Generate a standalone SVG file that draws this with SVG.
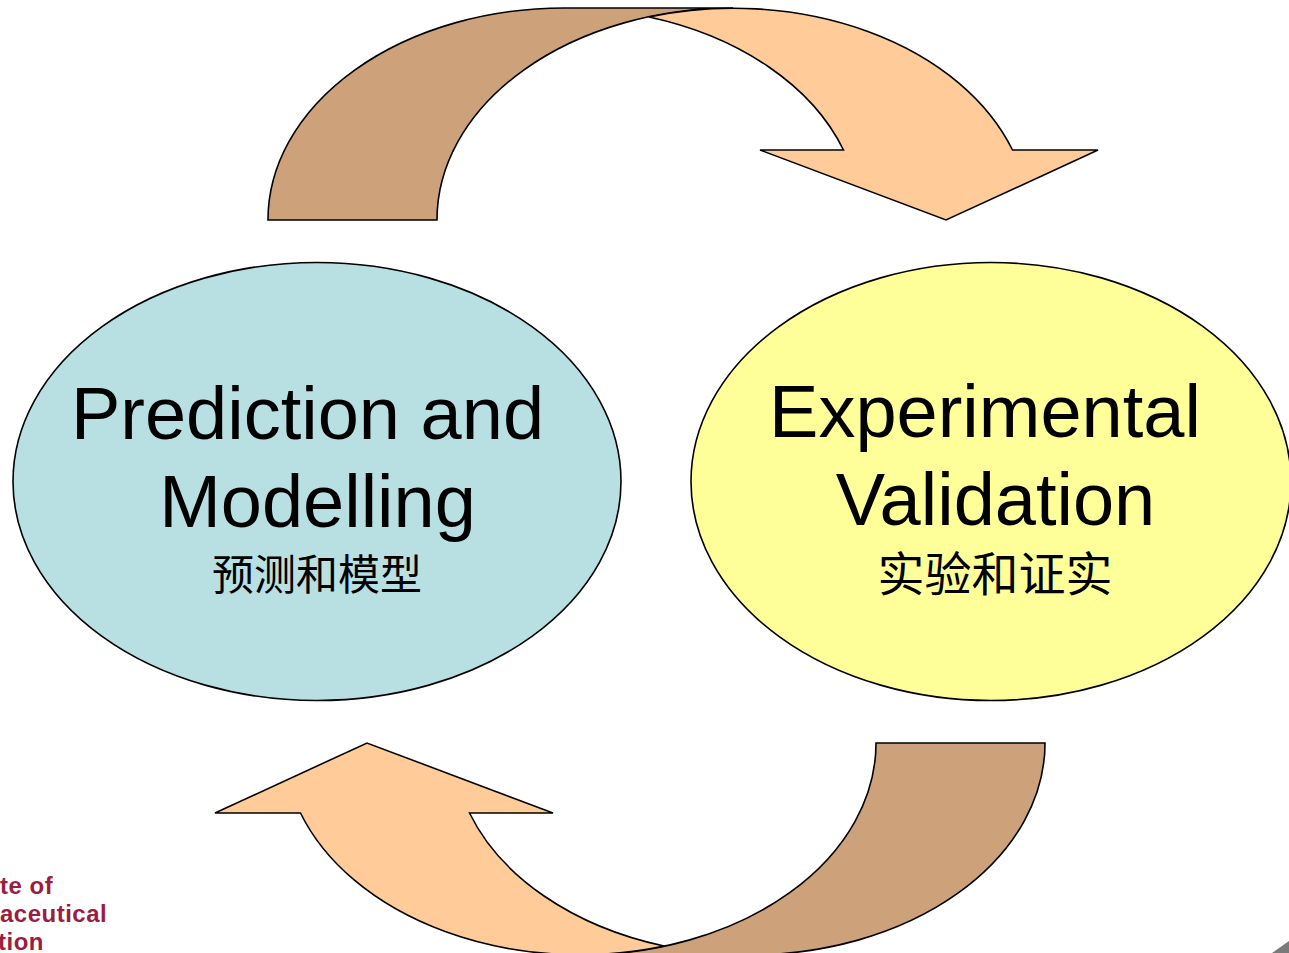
<svg xmlns="http://www.w3.org/2000/svg" width="1289" height="953" viewBox="0 0 1289 953">
  <style>
    .outline { stroke: #000; stroke-width: 1.6; stroke-linejoin: miter; }
    .back { fill: #CDA27A; }
    .front { fill: #FFCC99; }
    .en { font-family: "Liberation Sans", Arial, sans-serif; font-size: 74px; fill: #000; text-anchor: middle; }
    .zh { font-family: "Liberation Serif", "Noto Sans CJK SC", serif; fill: #000; text-anchor: middle; }
    .logo { font-family: "Liberation Sans", Arial, sans-serif; font-size: 24px; font-weight: bold; letter-spacing: 0.5px; fill: #9B1D3F; }
  </style>
  <defs>
    <g id="curvedArrow">
      <path class="back outline" d="M 268 220 A 296 212 0 0 1 564 8 L 733 8 A 296 212 0 0 0 437 220 Z"/>
      <path class="front outline" d="M 649 17 A 296 212 0 0 1 1012.5 150 L 1098 150 L 946 220 L 760 150 L 843.5 150 A 296 212 0 0 0 649 17 Z"/>
    </g>
  </defs>
  <rect width="1289" height="953" fill="#FFFFFF"/>

  <g id="connectors">
    <use id="arrow-top" href="#curvedArrow"/>
    <use id="arrow-bottom" href="#curvedArrow" transform="rotate(180 656.5 481.5)"/>
  </g>

  <g id="node-prediction">
    <ellipse class="outline" cx="317" cy="481.5" rx="304" ry="219" fill="#B8E0E3"/>
    <text class="en" x="307.5" y="439">Prediction and</text>
    <text class="en" x="317.5" y="527">Modelling</text>
    <text class="zh" x="317" y="590" font-size="42">预测和模型</text>
  </g>

  <g id="node-validation">
    <ellipse class="outline" cx="991" cy="481.5" rx="300" ry="219" fill="#FFFF99"/>
    <text class="en" x="985" y="437">Experimental</text>
    <text class="en" x="995.5" y="525">Validation</text>
    <text class="zh" x="995" y="591" font-size="47">实验和证实</text>
  </g>

  <g id="logo">
    <text class="logo" x="0" y="894">te of</text>
    <text class="logo" x="0" y="922">aceutical</text>
    <text class="logo" x="-2" y="950">tion</text>
  </g>
  <polygon points="1272,953 1289,941 1289,953" fill="#7a7a7a"/>
</svg>
